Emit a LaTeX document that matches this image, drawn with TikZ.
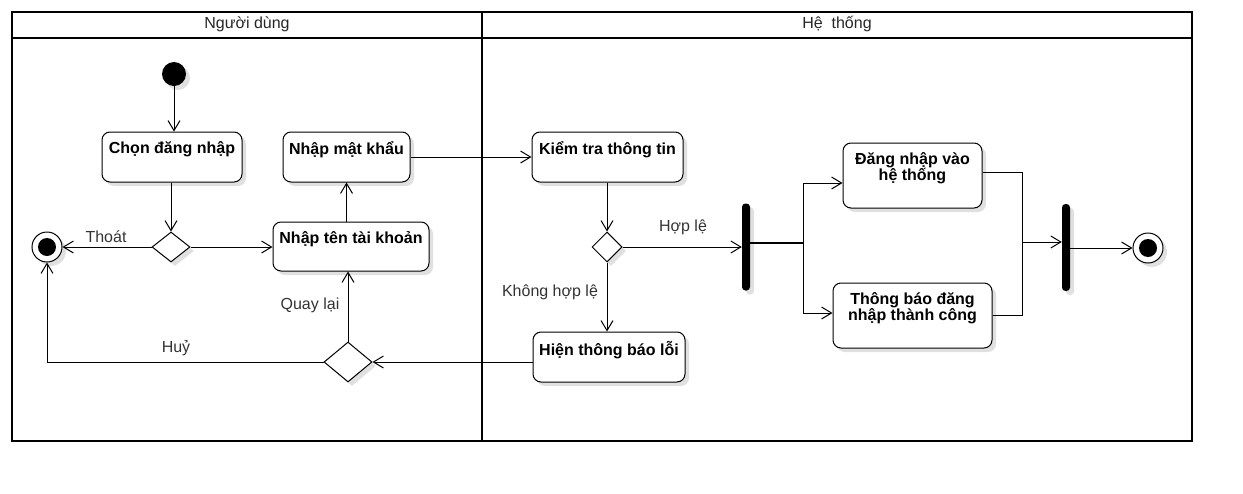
\documentclass[tikz,border=0pt]{standalone}
\usepackage{fontspec}
\setmainfont{Liberation Sans}
\usetikzlibrary{shapes.geometric,arrows.meta,shadows,calc}
\newcommand\myfs{\fontsize{16pt}{16pt}\selectfont}
\begin{document}
\begin{tikzpicture}[x=1pt,y=-1pt,
  shd/.style={drop shadow={shadow xshift=4pt,shadow yshift=-4pt,fill=black!12,opacity=1}},
  act/.style={draw, rounded corners=8pt, fill=white, shd, line width=1pt, inner sep=0pt},
  inlbl/.style={anchor=north, font=\bfseries\myfs, align=center, inner sep=6pt, yshift=-3.5pt, text=black},
  dec/.style={diamond, draw, fill=white, shd, line width=1pt, inner sep=0pt},
  bar/.style={rectangle, fill=black, rounded corners=3.5pt, shd, minimum width=8pt, minimum height=87pt, inner sep=0pt},
  startst/.style={circle, fill=black, shd, minimum size=24pt, inner sep=0pt},
  endst/.style={circle, draw, fill=white, shd, line width=1pt, minimum size=30pt, inner sep=0pt,
     path picture={\fill[black] (path picture bounding box.center) circle (9pt);}},
  flow/.style={line width=1pt, -{Straight Barb[length=10pt,width=12pt,line width=1pt]}},
  plain/.style={line width=1pt},
  elbl/.style={font=\myfs, text=black!80, inner sep=0pt},
  lane/.style={font=\myfs, text=black!85, inner sep=0pt}
]
\useasboundingbox (0,0) rectangle (1243,493);
% swimlanes
\draw[line width=2.2pt] (12,12) rectangle (1192,441);
\draw[line width=2.2pt] (12,38) -- (1192,38);
\draw[line width=2.2pt] (482,12) -- (482,441);
\node[lane] (lane1) at (247,24) {Người dùng};
\node[lane] (lane2) at (837,24) {Hệ\ \ thống};

% nodes
\node[startst] (start) at (174,74) {};
\node[act, minimum width=140pt, minimum height=50pt, label={[inlbl]north:{Chọn đăng nhập}}] (chon) at (172,157) {};
\node[act, minimum width=127pt, minimum height=50pt, label={[inlbl]north:{Nhập mật khẩu}}] (matkhau) at (346.5,157) {};
\node[dec, minimum width=38pt, minimum height=30pt] (d1) at (171,247) {};
\node[endst] (end1) at (47,247) {};
\node[act, minimum width=156pt, minimum height=49pt, label={[inlbl]north:{Nhập tên tài khoản}}] (tentk) at (351,246.5) {};
\node[dec, minimum width=48pt, minimum height=40pt] (d2) at (348,362) {};
\node[act, minimum width=151pt, minimum height=50pt, label={[inlbl]north:{Kiểm tra thông tin}}] (kiemtra) at (607.5,157) {};
\node[dec, minimum width=30pt, minimum height=30pt] (d3) at (607,247) {};
\node[act, minimum width=152pt, minimum height=50pt, label={[inlbl]north:{Hiện thông báo lỗi}}] (loi) at (609,357) {};
\node[bar] (fork) at (746,247) {};
\node[act, minimum width=139pt, minimum height=65pt, label={[inlbl]north:{Đăng nhập vào\\hệ thống}}] (dnvao) at (912.5,175.5) {};
\node[act, minimum width=159pt, minimum height=65pt, label={[inlbl]north:{Thông báo đăng\\nhập thành công}}] (tbao) at (912.5,315.5) {};
\node[bar] (join) at (1066,247.5) {};
\node[endst] (end2) at (1148,248) {};

% connectors
\draw[flow] (start) -- (start |- chon.north);
\draw[flow] (chon.south -| d1) -- (d1.north);
\draw[flow] (d1.east) -- (tentk.west |- d1);
\draw[flow] (d1.west) -- (end1.east);
\draw[flow] (tentk.north -| matkhau.south) -- (matkhau.south);
\draw[flow] (matkhau.east) -- (kiemtra.west);
\draw[flow] (kiemtra.south -| d3) -- (d3.north);
\draw[flow] (d3.east) -- (fork.west |- d3);
\draw[flow] (d3.south) -- (d3.south |- loi.north);
\draw[flow] (loi.west |- d2) -- (d2.east);
\draw[flow] (d2.north) -- (d2.north |- tentk.south);
\draw[flow] (d2.west) -| (end1.south);

\coordinate (fk) at (803,243);
\draw[flow] (fork.east |- 0,242.6) -- (fk |- 0,242.6) |- (dnvao.west |- 0,183);
\draw[flow] (fork.east |- 0,243.4) -- (fk |- 0,243.4) |- (tbao.west |- 0,313);
\coordinate (jn) at (1022,242);
\draw[flow] (dnvao.east |- 0,172) -| (jn) -- (join.west |- jn);
\draw[plain] (tbao.east |- 0,315) -| (jn);
\draw[flow] (join.east |- end2) -- (end2.west);

% edge labels
\node[elbl] (lthoat) at (106,237) {Thoát};
\node[elbl] (lhuy) at (176,348) {Huỷ};
\node[elbl] (lquay) at (310,305) {Quay lại};
\node[elbl] (lhople) at (683,227) {Hợp lệ};
\node[elbl] (lkhong) at (550,292) {Không hợp lệ};
\end{tikzpicture}
\end{document}
